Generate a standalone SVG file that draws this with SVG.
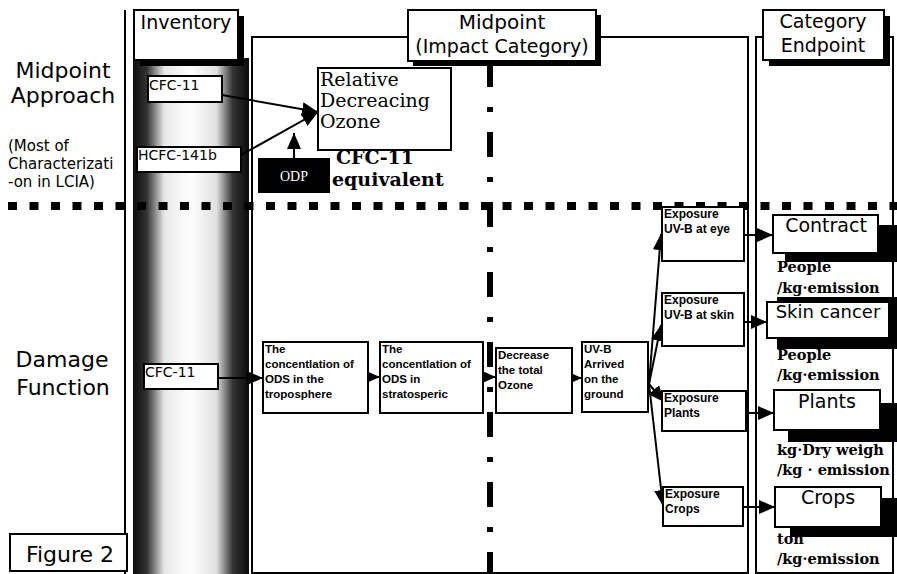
<svg xmlns="http://www.w3.org/2000/svg" width="897" height="574" viewBox="0 0 897 574">
<style>
.ln{stroke:#000;stroke-width:2;fill:none}
.box{fill:#fff;stroke:#000;stroke-width:2}
.sh{fill:#000}
.sans{font-family:"DejaVu Sans","Liberation Sans",sans-serif;fill:#000}
.ser{font-family:"DejaVu Serif","Liberation Serif",serif;fill:#000}
.sm{font-family:"Liberation Sans",Arial,sans-serif;font-weight:bold;font-size:11.5px;fill:#000}
.ex{font-family:"Liberation Sans",Arial,sans-serif;font-weight:bold;font-size:12px;fill:#000}
.unit{font-family:"DejaVu Serif","Liberation Serif",serif;font-weight:bold;font-size:14.5px;fill:#000}
.arr{stroke:#000;stroke-width:2;fill:none;marker-end:url(#ah)}
</style>
<defs>
<marker id="ah" markerUnits="userSpaceOnUse" markerWidth="18" markerHeight="16" refX="16" refY="7" orient="auto">
<path d="M0,0 L16,7 L0,14 z" fill="#000"/>
</marker>
<linearGradient id="col" x1="0" y1="0" x2="1" y2="0">
<stop offset="0" stop-color="#0a0a0a"/>
<stop offset="0.12" stop-color="#333"/>
<stop offset="0.27" stop-color="#e8e8e8"/>
<stop offset="0.5" stop-color="#ffffff"/>
<stop offset="0.72" stop-color="#e0e0e0"/>
<stop offset="0.86" stop-color="#333"/>
<stop offset="1" stop-color="#0a0a0a"/>
</linearGradient>
</defs>
<rect width="897" height="574" fill="#fff"/>

<!-- frame lines and columns -->
<g id="frame">
<line class="ln" x1="125" y1="10" x2="125" y2="574"/>
<rect x="133" y="58" width="116" height="516" fill="url(#col)"/>
<rect class="box" x="252" y="37" width="496" height="536"/>
<rect class="box" x="756" y="37" width="137" height="536"/>
<line x1="490" y1="62" x2="490" y2="574" stroke="#000" stroke-width="6" stroke-dasharray="25 20 5 20"/>
<line x1="8" y1="206" x2="897" y2="206" stroke="#000" stroke-width="8" stroke-dasharray="9 12.5"/>
</g>

<!-- headers -->
<g id="h-inventory">
<rect class="sh" x="140" y="16" width="104" height="50"/>
<rect class="box" x="134" y="10" width="104" height="50"/>
<text class="sans" x="186" y="29" font-size="19" text-anchor="middle">Inventory</text>
</g>
<g id="h-midpoint">
<rect class="sh" x="413" y="15" width="188" height="51"/>
<rect class="box" x="408" y="10" width="188" height="51"/>
<text class="sans" x="502" y="29" font-size="20" text-anchor="middle">Midpoint</text>
<text class="sans" x="502" y="53" font-size="19" text-anchor="middle">(Impact Category)</text>
</g>
<g id="h-endpoint">
<rect class="sh" x="769" y="16" width="121" height="50"/>
<rect class="box" x="763" y="10" width="121" height="50"/>
<text class="sans" x="823" y="28" font-size="19" text-anchor="middle">Category</text>
<text class="sans" x="823" y="52" font-size="19" text-anchor="middle">Endpoint</text>
</g>

<!-- row labels -->
<g id="lbl-midpoint">
<text class="sans" x="63" y="78" font-size="22" text-anchor="middle">Midpoint</text>
<text class="sans" x="63" y="103" font-size="22" text-anchor="middle">Approach</text>
<text class="sans" x="8" y="151" font-size="15">(Most of</text>
<text class="sans" x="8" y="169" font-size="15">Characterizati</text>
<text class="sans" x="8" y="187" font-size="15">-on in LCIA)</text>
</g>
<g id="lbl-damage">
<text class="sans" x="62" y="367" font-size="22" text-anchor="middle">Damage</text>
<text class="sans" x="63" y="395" font-size="22" text-anchor="middle">Function</text>
</g>
<g id="figure">
<rect class="box" x="10" y="534" width="117" height="37"/>
<text class="sans" x="70" y="562" font-size="22" text-anchor="middle">Figure 2</text>
</g>

<!-- connectors -->
<g id="connectors">
<line class="arr" x1="222" y1="95" x2="318" y2="112"/>
<line class="arr" x1="241" y1="155" x2="318" y2="112"/>
<line class="arr" x1="294" y1="158" x2="294" y2="133"/>
<line class="arr" x1="218" y1="378" x2="263" y2="378" stroke-width="3"/>
<line class="arr" x1="368" y1="377" x2="380" y2="377"/>
<line class="arr" x1="483" y1="377" x2="496" y2="377"/>
<line class="arr" x1="572" y1="378" x2="582" y2="378"/>
<line class="arr" x1="649" y1="384" x2="661" y2="234"/>
<line class="arr" x1="649" y1="384" x2="661" y2="325"/>
<line class="arr" x1="649" y1="384" x2="664" y2="402"/>
<line class="arr" x1="649" y1="384" x2="663" y2="506"/>
<line class="arr" x1="744" y1="235" x2="773" y2="235"/>
<line class="arr" x1="744" y1="322" x2="767" y2="322"/>
<line class="arr" x1="746" y1="413" x2="774" y2="413"/>
<line class="arr" x1="743" y1="507" x2="775" y2="507"/>
</g>

<!-- midpoint approach nodes -->
<g id="inv-cfc11">
<rect class="box" x="148" y="76" width="74" height="26"/>
<text class="sans" x="149" y="90" font-size="14">CFC-11</text>
</g>
<g id="inv-hcfc">
<rect class="box" x="137" y="147" width="104" height="25"/>
<text class="sans" x="138" y="160" font-size="14">HCFC-141b</text>
</g>
<g id="odp">
<rect x="258" y="158" width="72" height="35" fill="#000"/>
<text x="294" y="181" font-family="Liberation Serif,serif" font-size="14" fill="#fff" text-anchor="middle">ODP</text>
</g>
<g id="relative">
<rect class="box" x="318" y="68" width="133" height="82"/>
<text class="ser" x="320" y="86" font-size="19">Relative</text>
<text class="ser" x="320" y="107" font-size="19">Decreacing</text>
<text class="ser" x="320" y="128" font-size="19">Ozone</text>
<text class="ser" x="336" y="164" font-size="19" font-weight="bold">CFC-11</text>
<text class="ser" x="332" y="186" font-size="19" font-weight="bold">equivalent</text>
</g>

<!-- damage function nodes -->
<g id="inv-cfc11b">
<rect class="box" x="144" y="364" width="74" height="25"/>
<text class="sans" x="145" y="377" font-size="14">CFC-11</text>
</g>
<g id="tropo">
<rect class="box" x="263" y="342" width="105" height="71"/>
<text class="sm" x="265" y="353">The</text>
<text class="sm" x="265" y="368">concentlation of</text>
<text class="sm" x="265" y="383">ODS in the</text>
<text class="sm" x="265" y="398">troposphere</text>
</g>
<g id="strato">
<rect class="box" x="380" y="342" width="103" height="71"/>
<text class="sm" x="382" y="353">The</text>
<text class="sm" x="382" y="368">concentlation of</text>
<text class="sm" x="382" y="383">ODS in</text>
<text class="sm" x="382" y="398">stratosperic</text>
</g>
<g id="decrease">
<rect class="box" x="496" y="348" width="76" height="65"/>
<text class="sm" x="498" y="359">Decrease</text>
<text class="sm" x="498" y="374">the total</text>
<text class="sm" x="498" y="389">Ozone</text>
</g>
<g id="uvb">
<rect class="box" x="582" y="342" width="66" height="70"/>
<text class="sm" x="584" y="353">UV-B</text>
<text class="sm" x="584" y="368">Arrived</text>
<text class="sm" x="584" y="383">on the</text>
<text class="sm" x="584" y="398">ground</text>
</g>
<g id="exp-eye">
<rect class="box" x="662" y="207" width="82" height="54"/>
<text class="ex" x="664" y="218">Exposure</text>
<text class="ex" x="664" y="233">UV-B at eye</text>
</g>
<g id="exp-skin">
<rect class="box" x="662" y="293" width="82" height="53"/>
<text class="ex" x="664" y="304">Exposure</text>
<text class="ex" x="664" y="319">UV-B at skin</text>
</g>
<g id="exp-plants">
<rect class="box" x="662" y="391" width="84" height="40"/>
<text class="ex" x="664" y="402">Exposure</text>
<text class="ex" x="664" y="417">Plants</text>
</g>
<g id="exp-crops">
<rect class="box" x="663" y="487" width="80" height="39"/>
<text class="ex" x="665" y="498">Exposure</text>
<text class="ex" x="665" y="513">Crops</text>
</g>

<!-- endpoints -->
<g id="ep-contract">
<rect class="sh" x="785" y="225" width="112" height="37"/>
<rect class="box" x="773" y="215" width="105" height="38"/>
<text class="sans" x="826" y="232" font-size="19" text-anchor="middle">Contract</text>
<text class="unit" x="777" y="272">People</text>
<text class="unit" x="777" y="293">/kg·emission</text>
</g>
<g id="ep-skin">
<rect class="sh" x="777" y="297" width="120" height="52"/>
<rect class="box" x="767" y="302" width="122" height="36"/>
<text class="sans" x="828" y="318" font-size="18" text-anchor="middle">Skin cancer</text>
<text class="unit" x="777" y="360">People</text>
<text class="unit" x="777" y="380">/kg·emission</text>
</g>
<g id="ep-plants">
<rect class="sh" x="788" y="403" width="109" height="39"/>
<rect class="box" x="774" y="390" width="106" height="40"/>
<text class="sans" x="827" y="408" font-size="19" text-anchor="middle">Plants</text>
<text class="unit" x="777" y="455">kg·Dry weigh</text>
<text class="unit" x="777" y="475">/kg · emission</text>
</g>
<g id="ep-crops">
<rect class="sh" x="790" y="498" width="107" height="39"/>
<rect class="box" x="775" y="487" width="106" height="40"/>
<text class="sans" x="828" y="504" font-size="19" text-anchor="middle">Crops</text>
<text class="unit" x="777" y="544">ton</text>
<text class="unit" x="777" y="564">/kg·emission</text>
</g>
</svg>
